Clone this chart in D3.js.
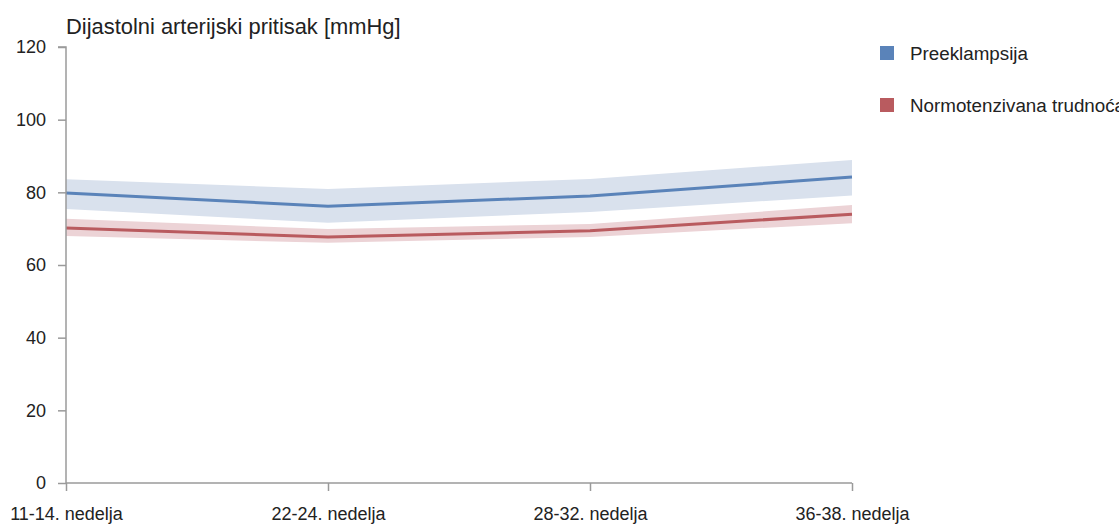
<!DOCTYPE html>
<html><head><meta charset="utf-8">
<script src="https://cdn.jsdelivr.net/npm/d3@7"></script>
<style>
body{margin:0;background:#fff;}
text{font-family:"Liberation Sans",Arial,sans-serif;fill:#222;}
</style></head>
<body><svg id="c" width="1119" height="524"></svg>
<script>
const categories = ["11-14. nedelja","22-24. nedelja","28-32. nedelja","36-38. nedelja"];
const seriesNames = ["Preeklampsija","Normotenzivana trudnoća"];
const preMean  = [79.8, 76.2, 79.0, 84.2];
const preLow   = [75.4, 71.6, 74.6, 79.1];
const preHigh  = [83.6, 80.9, 83.7, 88.9];
const normMean = [70.2, 67.7, 69.4, 74.0];
const normLow  = [68.0, 66.1, 67.7, 71.5];
const normHigh = [72.7, 69.9, 71.3, 76.5];
const yTicks = [0,20,40,60,80,100,120];
const title = "Dijastolni arterijski pritisak [mmHg]";

const lineColors = ["#5a83b9","#b95b5f"];
const bandColors = ["#d9e1ed","#ecd3d6"];

const svg = d3.select("#c");
const x = d3.scalePoint().domain(categories).range([66, 852]);
const y = d3.scaleLinear().domain([0,120]).range([483, 47]);

const series = [
  {name: seriesNames[0], mean: preMean, low: preLow, high: preHigh},
  {name: seriesNames[1], mean: normMean, low: normLow, high: normHigh}
];

const area = d3.area().x((d,i)=>x(categories[i])).y0(d=>y(d[0])).y1(d=>y(d[1]));
const line = d3.line().x((d,i)=>x(categories[i])).y(d=>y(d));
series.forEach((s,k)=>{
  svg.append("path").datum(s.low.map((v,i)=>[v,s.high[i]]))
    .attr("d", area).attr("fill", bandColors[k]);
});
series.forEach((s,k)=>{
  svg.append("path").datum(s.mean).attr("d", line)
    .attr("fill","none").attr("stroke", lineColors[k]).attr("stroke-width",3);
});

const axisColor = "#9a9a9a";
const yAxis = svg.append("g").attr("transform","translate(66,0)")
  .call(d3.axisLeft(y).tickValues(yTicks).tickSize(8).tickPadding(12));
const xAxis = svg.append("g").attr("transform","translate(0,483)")
  .call(d3.axisBottom(x).tickSize(8).tickPadding(16));
[yAxis,xAxis].forEach(g=>{
  g.select(".domain").attr("stroke",axisColor).attr("stroke-width",1.5);
  g.selectAll(".tick line").attr("stroke",axisColor).attr("stroke-width",1.5);
  g.selectAll(".tick text").attr("fill","#222").style("font-size","18px")
   .style("font-family","'Liberation Sans',Arial,sans-serif");
});
yAxis.select(".domain").attr("d", `M-8,${y(120)}H0V${y(0)}`);
xAxis.select(".domain").attr("d", `M${x.range()[0]},0H${x.range()[1]}`);

svg.append("text").attr("x",66).attr("y",34).style("font-size","21.9px").text(title);

const leg = svg.append("g");
seriesNames.forEach((n,k)=>{
  leg.append("rect").attr("x",880).attr("y",46+k*52).attr("width",14).attr("height",14)
    .attr("fill",lineColors[k]);
  leg.append("text").attr("x",910).attr("y",53+k*52).attr("dy","0.35em")
    .style("font-size","18.8px").text(n);
});
</script></body></html>
